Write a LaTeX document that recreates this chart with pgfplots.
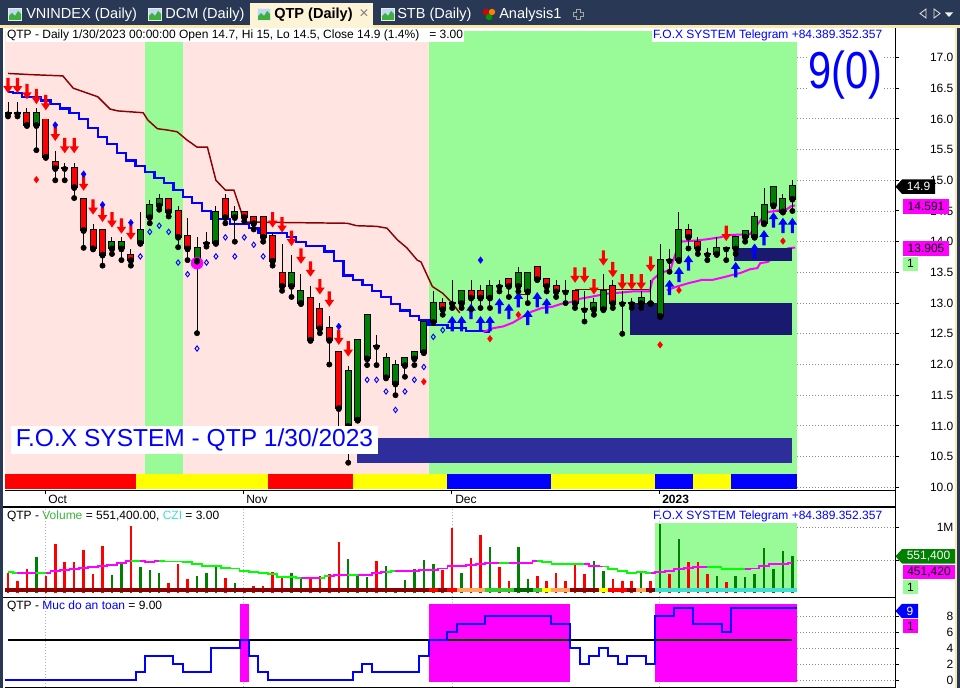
\documentclass[border=0pt]{standalone}
\usepackage{graphicx}
\usepackage{fontspec}
\setmainfont{Liberation Sans}
\usepackage{pgfplots}
\usepackage{pgfplotstable}
\pgfplotsset{compat=1.18}

\definecolor{tabbg}{HTML}{293955}
\definecolor{tabcream}{HTML}{FDF3D6}
\definecolor{tabstrip}{HTML}{FBE8AC}
\definecolor{pinkbg}{HTML}{FFE4E1}
\definecolor{greenbg}{HTML}{98FB98}
\definecolor{cgreen}{HTML}{008000}
\definecolor{cred}{HTML}{FF0000}
\definecolor{cmag}{HTML}{FF00FF}
\definecolor{cyel}{HTML}{FFFF00}
\definecolor{cblue}{HTML}{0000FF}
\definecolor{navyA}{HTML}{191970}
\definecolor{navyB}{HTML}{2D2D9B}
\definecolor{dred}{HTML}{8B0000}
\definecolor{lime}{HTML}{00FF00}
\definecolor{turq}{HTML}{40E0D0}
\definecolor{borange}{HTML}{FFA860}
\definecolor{bgreen}{HTML}{33CC33}
\definecolor{bdgreen}{HTML}{006400}
\definecolor{ttlgreen}{HTML}{3CB43C}
\definecolor{icblue}{HTML}{BFD9F2}
\definecolor{icgreen}{HTML}{3FAF3F}

\newcommand{\fs}[1]{\fontsize{#1}{#1}\selectfont}
\newcommand{\rect}[5]{\addplot[fill=#1, draw=none] coordinates {(#2,#3) (#4,#3) (#4,#5) (#2,#5)};}
\newcommand{\ptag}[5]{%
  \fill[#3] (895.5,#1) -- (902,#1-7.2) -- (#2,#1-7.2) -- (#2,#1+7.2) -- (902,#1+7.2) -- cycle;
  \node[text=#4, font=\fs{9}, inner sep=0pt] at ({(902+#2)/2},#1) {#5};}
\newcommand{\btag}[5]{%
  \fill[#3] (903,#1-7.2) rectangle (#2,#1+7.2);
  \node[text=#4, font=\fs{9}, inner sep=0pt] at ({(903+#2)/2},#1) {#5};}

\pgfdeclareplotmark{dnarrow}{%
  \pgfpathmoveto{\pgfqpoint{0pt}{0pt}}%
  \pgfpathlineto{\pgfqpoint{3.6pt}{5.2pt}}%
  \pgfpathlineto{\pgfqpoint{1.2pt}{5.2pt}}%
  \pgfpathlineto{\pgfqpoint{1.2pt}{11.5pt}}%
  \pgfpathlineto{\pgfqpoint{-1.2pt}{11.5pt}}%
  \pgfpathlineto{\pgfqpoint{-1.2pt}{5.2pt}}%
  \pgfpathlineto{\pgfqpoint{-3.6pt}{5.2pt}}%
  \pgfpathclose\pgfusepathqfill}
\pgfdeclareplotmark{uparrow}{%
  \pgfpathmoveto{\pgfqpoint{0pt}{0pt}}%
  \pgfpathlineto{\pgfqpoint{3.6pt}{-5.2pt}}%
  \pgfpathlineto{\pgfqpoint{1.2pt}{-5.2pt}}%
  \pgfpathlineto{\pgfqpoint{1.2pt}{-11.5pt}}%
  \pgfpathlineto{\pgfqpoint{-1.2pt}{-11.5pt}}%
  \pgfpathlineto{\pgfqpoint{-1.2pt}{-5.2pt}}%
  \pgfpathlineto{\pgfqpoint{-3.6pt}{-5.2pt}}%
  \pgfpathclose\pgfusepathqfill}

\pgfplotstableread{
i O H L C
0 16.09 16.28 16.04 16.09
1 16.09 16.28 16.04 16.09
2 16.09 16.17 15.90 15.90
3 15.90 16.17 15.49 16.09
4 15.99 15.99 15.38 15.38
5 15.29 15.47 15.00 15.20
6 15.20 15.28 15.00 15.20
7 15.20 15.28 14.71 14.89
8 14.69 14.69 13.90 14.19
9 14.19 14.29 13.89 13.89
10 14.19 14.19 13.61 13.79
11 13.89 14.08 13.80 13.99
12 13.89 14.08 13.70 13.99
13 13.79 13.88 13.61 13.70
14 13.98 14.48 13.98 14.19
15 14.40 14.68 14.30 14.59
16 14.59 14.77 14.52 14.69
17 14.69 14.69 14.41 14.49
18 14.50 14.58 13.91 14.08
19 14.09 14.38 13.70 13.89
20 13.69 14.07 12.51 13.89
21 13.98 14.16 13.92 13.98
22 13.98 14.58 13.98 14.49
23 14.69 14.77 14.30 14.40
24 14.40 14.58 14.00 14.49
25 14.49 14.49 14.33 14.40
26 14.40 14.40 14.20 14.30
27 14.40 14.40 14.00 14.08
28 14.09 14.14 13.61 13.69
29 13.49 13.97 13.20 13.28
30 13.28 13.78 13.10 13.49
31 13.00 13.47 13.00 13.19
32 13.09 13.28 12.40 12.40
33 12.90 13.00 12.51 12.59
34 12.59 12.79 12.00 12.40
35 12.20 12.20 10.95 11.29
36 11.00 11.98 10.40 11.90
37 11.10 12.40 11.10 12.40
38 12.10 12.81 11.99 12.81
39 12.30 12.48 11.99 12.30
40 11.79 12.19 11.79 12.10
41 11.69 12.08 11.50 11.99
42 11.99 12.10 11.80 12.10
43 12.10 12.20 11.99 12.20
44 12.20 12.69 12.20 12.69
45 12.69 13.19 12.69 13.00
46 13.00 13.08 12.81 12.90
47 13.00 13.38 12.92 13.00
48 13.00 13.19 12.92 13.19
49 13.19 13.38 12.90 13.09
50 13.19 13.29 12.92 13.09
51 13.09 13.38 12.92 13.28
52 13.28 13.38 13.19 13.28
53 13.39 13.39 13.10 13.28
54 13.28 13.58 13.19 13.49
55 13.19 13.49 13.00 13.49
56 13.59 13.59 13.39 13.39
57 13.39 13.39 13.19 13.28
58 13.28 13.38 13.10 13.19
59 13.19 13.38 13.00 13.19
60 13.19 13.19 12.92 13.00
61 12.90 13.19 12.70 12.90
62 12.90 13.08 12.81 13.00
63 12.90 13.47 12.90 13.19
64 13.28 13.38 12.92 13.00
65 13.00 13.19 12.50 13.00
66 13.00 13.09 12.92 13.00
67 13.00 13.19 12.92 13.09
68 13.00 13.38 13.00 13.00
69 12.79 13.97 12.79 13.70
70 13.70 13.88 13.51 13.70
71 13.70 14.48 13.70 14.19
72 14.19 14.29 13.89 14.08
73 13.99 14.08 13.80 13.89
74 13.80 13.89 13.70 13.80
75 13.80 14.07 13.80 13.89
76 13.89 13.89 13.70 13.89
77 13.89 14.08 13.80 14.08
78 14.08 14.18 14.00 14.18
79 14.08 14.48 14.08 14.40
80 14.30 14.87 14.30 14.60
81 14.59 14.89 14.59 14.89
82 14.49 14.78 14.49 14.69
83 14.70 15.00 14.50 14.90
}\candles

\pgfplotstableread{
i b
0 16.44
1 16.42
2 16.36
3 16.36
4 16.30
5 16.24
6 16.17
7 16.10
8 16.00
9 15.85
10 15.71
11 15.59
12 15.45
13 15.32
14 15.23
15 15.14
16 15.04
17 14.96
18 14.84
19 14.73
20 14.63
21 14.50
22 14.37
23 14.37
24 14.29
25 14.29
26 14.22
27 14.14
28 14.14
29 14.14
30 14.08
31 14.00
32 13.93
33 13.93
34 13.84
35 13.69
36 13.45
37 13.38
38 13.29
39 13.20
40 13.10
41 12.99
42 12.88
43 12.79
44 12.72
45 12.64
46 12.64
47 12.59
48 12.59
49 12.55
50 12.55
51 12.53
}\blueline

\pgfplotstableread{
i v c
0 0.31 0
1 0.18 0
2 0.37 0
3 0.55 1
4 0.26 0
5 0.745 0
6 0.475 0
7 0.475 0
8 0.65 0
9 0.29 0
10 0.715 0
11 0.27 1
12 0.44 1
13 1.02 0
14 0.39 1
15 0.35 1
16 0.30 1
17 0.155 0
18 0.44 0
19 0.205 0
20 0.26 1
21 0.30 1
22 0.425 1
23 0.22 0
24 0.145 1
25 0.05 0
26 0.10 0
27 0.10 0
28 0.32 0
29 0.26 0
30 0.30 1
31 0.22 1
32 0.22 0
33 0.26 0
34 0.29 0
35 0.77 0
36 0.515 1
37 0.27 1
38 0.235 1
39 0.485 0
40 0.41 1
41 0.07 1
42 0.195 1
43 0.365 1
44 0.50 1
45 0.44 1
46 0.35 0
47 0.995 0
48 0.31 1
49 0.525 0
50 0.88 0
51 0.705 1
52 0.39 0
53 0.185 0
54 0.705 1
55 0.205 1
56 0.255 0
57 0.185 0
58 0.31 0
59 0.185 0
60 0.44 0
61 0.29 0
62 0.49 1
63 0.34 1
64 0.205 0
65 0.185 0
66 0.185 0
67 0.30 1
68 0.185 0
69 1.05 1
70 0.29 0
71 0.82 1
72 0.475 0
73 0.475 0
74 0.29 0
75 0.255 1
76 0.17 0
77 0.255 1
78 0.235 1
79 0.29 1
80 0.68 1
81 0.365 1
82 0.64 1
83 0.56 1
}\vol

\pgfplotstableread{
i m
0 0.322
1 0.305
2 0.305
3 0.302
4 0.302
5 0.33
6 0.35
7 0.36
8 0.38
9 0.39
10 0.41
11 0.43
12 0.45
13 0.485
14 0.49
15 0.475
16 0.485
17 0.48
18 0.48
19 0.47
20 0.44
21 0.414
22 0.414
23 0.383
24 0.37
25 0.333
26 0.32
27 0.307
28 0.282
29 0.246
30 0.246
31 0.23
32 0.23
33 0.23
34 0.26
35 0.272
36 0.272
37 0.272
38 0.272
39 0.298
40 0.322
41 0.333
42 0.333
43 0.333
44 0.348
45 0.348
46 0.37
47 0.409
48 0.414
49 0.424
50 0.444
51 0.45
52 0.46
53 0.46
54 0.46
55 0.46
56 0.481
57 0.466
58 0.444
59 0.444
60 0.444
61 0.444
62 0.414
63 0.40
64 0.36
65 0.333
66 0.307
67 0.313
68 0.307
69 0.322
70 0.337
71 0.36
72 0.374
73 0.398
74 0.398
75 0.389
76 0.363
77 0.363
78 0.363
79 0.37
80 0.41
81 0.435
82 0.44
83 0.45
}\volma

\pgfplotstableread{
i m
0 0.322
1 0.305
nan nan
3 0.302
4 0.302
nan nan
13 0.485
14 0.49
nan nan
16 0.485
17 0.48
18 0.48
19 0.47
20 0.44
21 0.414
22 0.414
23 0.383
24 0.37
25 0.333
26 0.32
27 0.307
28 0.282
29 0.246
30 0.246
31 0.23
nan nan
33 0.23
34 0.26
nan nan
36 0.272
37 0.272
nan nan
40 0.322
41 0.333
nan nan
52 0.46
53 0.46
nan nan
56 0.481
57 0.466
58 0.444
59 0.444
60 0.444
61 0.444
nan nan
63 0.40
64 0.36
65 0.333
66 0.307
67 0.313
68 0.307
nan nan
74 0.398
75 0.389
76 0.363
77 0.363
78 0.363
}\volmagreen

\pgfplotsset{panel/.style={scale only axis, width=667.5pt, xmin=-0.32, xmax=93.86,
  anchor=north west, axis x line*=bottom, axis y line*=right,
  axis line style={-,black,line width=0.75pt},
  tick align=outside, major tick length=3pt, tick style={black,line width=0.75pt},
  tick label style={font=\fs{9}, black},
  yticklabel style={anchor=east, inner sep=0pt, xshift=41pt},
  /pgf/number format/assume math mode=true}}

\begin{document}
\begin{tikzpicture}[x=0.75pt,y=-0.75pt]
\path[use as bounding box] (0,0) rectangle (960,688);
\fill[white] (0,0) rectangle (960,688);

% ================= MAIN PRICE PANEL =================
\begin{axis}[panel, at={(3.75pt,-21pt)}, height=346.5pt, ymin=9.956, ymax=17.48,
  xtick={3.92,24.87,46.98,68.89}, xticklabels={Oct,Nov,Dec,\textbf{2023}},
  xticklabel style={anchor=north west, inner sep=0pt, xshift=2.25pt, yshift=-0.5pt},
  ytick={10,10.5,...,17},
  yticklabel style={/pgf/number format/fixed, /pgf/number format/fixed zerofill, /pgf/number format/precision=1}]
% background zones
\rect{pinkbg}{-0.32}{10.22}{14.5}{17.43}
\rect{greenbg}{14.5}{10.22}{18.5}{17.43}
\rect{pinkbg}{18.5}{10.22}{44.5}{17.43}
\rect{greenbg}{44.5}{10.22}{83.5}{17.43}
% dotted grid on the right
\pgfplotsinvokeforeach{10,10.5,...,17}{\draw[dash pattern=on 0.75pt off 1.5pt, black!45, line width=0.6pt] (axis cs:83.5,#1) -- (axis cs:93.86,#1);}
% colour band
\rect{cred}{-0.32}{9.97}{13.5}{10.22}
\rect{cyel}{13.5}{9.97}{27.5}{10.22}
\rect{cred}{27.5}{9.97}{36.5}{10.22}
\rect{cyel}{36.5}{9.97}{46.5}{10.22}
\rect{cblue}{46.5}{9.97}{57.5}{10.22}
\rect{cyel}{57.5}{9.97}{68.5}{10.22}
\rect{cblue}{68.5}{9.97}{72.5}{10.22}
\rect{cyel}{72.5}{9.97}{76.5}{10.22}
\rect{cblue}{76.5}{9.97}{83.5}{10.22}
% dark red line
\addplot[dred, line width=1.1pt] coordinates {(0,16.74) (2.5,16.72) (5.8,16.70) (6.9,16.50) (9.5,16.36) (10.8,16.16) (11.6,16.13) (14.3,16.10) (14.8,15.98) (15.8,15.84) (16.8,15.82) (17.9,15.79) (18.9,15.66) (20.0,15.54) (21.1,15.54) (22.0,15.00) (23.0,14.84) (23.9,14.84) (24.6,14.52) (25.0,14.32) (35.9,14.30) (36.9,14.26) (39.0,14.25) (40.1,14.22) (41.2,14.03) (42.2,13.90) (43.3,13.70) (43.7,13.67) (44.9,13.27) (46.0,13.16) (47.0,13.00) (47.8,12.84)};
\addplot[dred, line width=1.1pt] coordinates {(54.2,13.14) (54.9,13.14)};
\addplot[dred, line width=1.1pt] coordinates {(60.0,13.22) (67.9,13.22)};
\addplot[dred, line width=1.1pt] coordinates {(77.5,14.12) (78.5,14.12)};
\addplot[dred, line width=1.1pt] coordinates {(81.0,14.50) (82.4,14.50)};
% blue stepped line
\addplot[cblue, line width=1.7pt, const plot mark mid] table[x=i, y=b] {\blueline};
% magenta lines
\addplot[cmag, line width=1.5pt] coordinates {(50.3,12.53) (51.3,12.59) (52.4,12.62) (53.4,12.68) (54.5,12.78) (55.4,12.86) (56.5,12.92) (57.6,12.94) (58.6,12.99) (59.7,13.02) (60.5,13.07) (61.6,13.10) (62.6,13.13) (63.7,13.16) (64.8,13.17) (66.1,13.19) (67.9,13.19) (68.2,13.38) (69.0,13.49) (70.1,13.54) (70.4,13.70) (71.1,14.00) (72.9,14.02) (74.0,14.04) (75.3,14.07) (76.4,14.11) (78.5,14.12) (79.4,14.30) (80.3,14.48) (82.4,14.53) (82.9,14.58) (83.3,14.59)};
\addplot[cmag, line width=1.5pt] coordinates {(69.7,13.21) (70.8,13.27) (71.9,13.32) (73.5,13.38) (74.6,13.38) (75.7,13.42) (76.7,13.46) (77.5,13.49) (78.5,13.55) (79.3,13.57) (79.6,13.65) (80.4,13.67) (80.9,13.73) (82.5,13.89) (83.3,13.905)};
% signals
\addplot[only marks, mark=dnarrow, color=cred] coordinates {(0,16.42) (1,16.42) (2,16.32) (3,16.24) (4,16.14) (5,15.64) (6,15.44) (7,15.44) (8,14.83) (9,14.44) (10,14.32) (11,14.23) (12,14.13) (13,14.03) (28,14.23) (29,14.15) (30,13.93) (31,13.64) (32,13.43) (33,13.14) (34,12.94) (35,12.32) (36,12.13) (60,13.33) (61,13.33) (62,13.14) (63,13.61) (64,13.42) (65,13.22) (66,13.22) (67,13.22) (68,13.51) (76,14.01)};
\addplot[only marks, mark=uparrow, color=cblue] coordinates {(47,12.79) (48,12.79) (49,12.99) (50,12.79) (51,12.79) (52,13.08) (53,12.99) (54,13.18) (55,12.89) (56,13.18) (57,13.08) (70,13.38) (71,13.59) (72,13.78) (77,13.67) (79,13.97) (80,14.19) (81,14.48) (82,14.39) (83,14.39)};
\addplot[only marks, mark=diamond, mark size=2pt, cblue, mark options={line width=0.7pt}] coordinates {(14,13.76) (15,14.16) (16,14.26) (17,14.16) (18,13.66) (19,13.47) (20,12.26) (21,13.66) (22,13.76) (23,14.07) (24,13.76) (25,14.07) (26,13.95) (27,13.76) (38,11.75) (39,11.75) (40,11.56) (41,11.26) (42,11.56) (43,11.75) (44,11.96) (45,12.45) (46,12.56)};
\addplot[only marks, mark=diamond*, mark size=2.4pt, cblue] coordinates {(5,15.90) (8,15.10) (10,14.60) (13,14.31) (35,12.62) (50,13.70)};
\addplot[only marks, mark=diamond*, mark size=2.4pt, cred] coordinates {(3,15.01) (44,11.72) (51,12.42) (54,12.81) (69,12.32) (71,13.21) (82,14.01)};
\addplot[only marks, mark=*, mark size=4.5pt, cmag] coordinates {(20,13.65)};
% zone boxes
\rect{navyB}{36.9}{10.39}{83.0}{10.81}
\rect{navyA}{65.8}{12.48}{83.0}{13.00}
\rect{navyA}{76.8}{13.69}{83.0}{13.89}
% candles: wicks
\addplot[only marks, mark=none, error bars/.cd, y dir=plus, y explicit, error mark=none,
  error bar style={draw=black, line width=0.75pt}]
  table[x=i, y=L, y error plus expr={\thisrow{H}-\thisrow{L}}] {\candles};
% candles: black outline of bodies
\addplot[only marks, mark=none, error bars/.cd, y dir=plus, y explicit, error mark=none,
  error bar style={draw=black, line width=5.25pt}]
  table[x=i, y expr={min(\thisrow{O},\thisrow{C})-0.016}, y error plus expr={abs(\thisrow{C}-\thisrow{O})+0.032}] {\candles};
% down bodies
\addplot[only marks, mark=none, restrict expr to domain={\thisrow{O}-\thisrow{C}}{0.001:100},
  error bars/.cd, y dir=plus, y explicit, error mark=none,
  error bar style={draw=cred, line width=3.75pt}]
  table[x=i, y=C, y error plus expr={\thisrow{O}-\thisrow{C}}] {\candles};
% up bodies
\addplot[only marks, mark=none, restrict expr to domain={\thisrow{C}-\thisrow{O}}{0.001:100},
  error bars/.cd, y dir=plus, y explicit, error mark=none,
  error bar style={draw=cgreen, line width=3.75pt}]
  table[x=i, y=O, y error plus expr={\thisrow{C}-\thisrow{O}}] {\candles};
\end{axis}

% ================= VOLUME PANEL =================
\begin{axis}[panel, at={(3.75pt,-380.25pt)}, height=67.5pt, ymin=-0.064, ymax=1.31,
  ytick={0.5,1}, yticklabels={{},1M},
  xtick={3.92,24.87,46.98,68.89}, xticklabels={}, xtick style={draw=none},
  xmajorgrids, major grid style={dash pattern=on 0.75pt off 1.5pt, black!30}]
\rect{greenbg}{68.5}{0.012}{83.5}{1.066}
\pgfplotsinvokeforeach{0.5,1}{\draw[dash pattern=on 0.75pt off 1.5pt, black!45, line width=0.6pt] (axis cs:83.5,#1) -- (axis cs:93.86,#1);}
\addplot[ycomb, draw=cred, line width=1.9pt, restrict expr to domain={\thisrow{c}}{-0.5:0.5}] table[x=i, y=v] {\vol};
\addplot[ycomb, draw=cgreen, line width=1.9pt, restrict expr to domain={\thisrow{c}}{0.5:1.5}] table[x=i, y=v] {\vol};
% bottom colour strip
\rect{dred}{-0.32}{0.017}{44.5}{0.078}
\rect{cred}{44.5}{0.017}{45.5}{0.078}
\rect{dred}{45.5}{0.017}{46.5}{0.078}
\rect{cred}{46.5}{0.017}{47.5}{0.078}
\rect{borange}{47.5}{0.017}{50.5}{0.078}
\rect{bgreen}{50.5}{0.017}{53.5}{0.078}
\rect{bdgreen}{53.5}{0.017}{55.5}{0.078}
\rect{bgreen}{55.5}{0.017}{56.5}{0.078}
\rect{cyel}{56.5}{0.017}{57.5}{0.078}
\rect{borange}{57.5}{0.017}{59.5}{0.078}
\rect{dred}{59.5}{0.017}{62.5}{0.078}
\rect{cyel}{62.5}{0.017}{63.5}{0.078}
\rect{cred}{63.5}{0.017}{65.5}{0.078}
\rect{dred}{65.5}{0.017}{66.5}{0.078}
\rect{borange}{66.5}{0.017}{67.5}{0.078}
\rect{dred}{67.5}{0.017}{68.5}{0.078}
\rect{turq}{68.5}{0.017}{83.5}{0.078}
% volume average
\addplot[cmag, line width=1.3pt, const plot mark mid] table[x=i, y=m] {\volma};
\addplot[lime, line width=1.3pt, const plot mark mid, unbounded coords=jump] table[x=i, y=m] {\volmagreen};
\end{axis}

% ================= SAFETY INDICATOR PANEL =================
\begin{axis}[panel, at={(3.75pt,-448.5pt)}, height=66.75pt, ymin=-0.84, ymax=10.29,
  ytick={0,2,4,6,8},
  xtick={3.92,24.87,46.98,68.89}, xticklabels={}, xtick style={draw=none},
  xmajorgrids, major grid style={dash pattern=on 0.75pt off 1.5pt, black!30}]
\rect{cmag}{24.5}{-0.17}{25.5}{9.54}
\rect{cmag}{44.5}{-0.17}{59.5}{9.54}
\rect{cmag}{68.5}{-0.17}{83.5}{9.54}
\pgfplotsinvokeforeach{0,2,4,6,8}{\draw[dash pattern=on 0.75pt off 1.5pt, black!45, line width=0.6pt] (axis cs:83.5,#1) -- (axis cs:93.86,#1);}
\addplot[black, line width=1.5pt] coordinates {(0,5) (83.0,5)};
\addplot[cblue, line width=1.5pt, const plot] coordinates {(-0.32,0) (13.5,1) (14.5,3) (17.5,2) (18.5,1) (21.5,4) (24.5,5) (25.5,3) (26.5,1) (27.5,0) (36.5,1) (37.5,2) (38.5,1) (43.5,3) (44.5,5) (46.5,6) (47.5,7) (50.5,8) (57.5,7) (59.5,4) (60.5,2) (61.5,3) (62.5,4) (63.5,3) (64.5,2) (65.5,3) (67.5,2) (68.5,8) (70.5,9) (72.5,7) (75.5,6) (76.5,9) (83.5,9)};
\end{axis}

% ================= frame lines =================
\draw[black, line width=0.75pt] (895,28) -- (895,688);
\draw[black, line width=1.3pt] (3,507) -- (895,507);
\draw[black, line width=1pt] (3,597.5) -- (895,597.5);
\fill[tabbg] (0,28) rectangle (3,688);
\fill[tabstrip] (954.5,28) rectangle (957,688);
\fill[tabbg] (957,0) rectangle (960,688);

% ================= texts in panels =================
\node[anchor=west, font=\fs{9}, inner sep=0.6pt, fill=white] at (6,35.5) {QTP - Daily 1/30/2023 00:00:00 Open 14.7, Hi 15, Lo 14.5, Close 14.9 (1.4\%)\ \ \ = 3.00};
\node[anchor=west, font=\fs{9}, inner sep=0.6pt, fill=white, text=cblue] at (652,35.5) {F.O.X SYSTEM Telegram +84.389.352.357};
\node[text=cblue, fill=white, inner sep=1pt, font=\fs{31.2}] at (845,75) {\scalebox{1}[1.25]{9(0)}};
\node[fill=white, text=cblue, inner sep=0pt, minimum width=275.25pt, minimum height=21pt, font=\fs{18.4}] at (194.5,440) {F.O.X SYSTEM - QTP 1/30/2023};
\node[anchor=west, font=\fs{9}, inner sep=0.6pt] at (6,516.5) {QTP - \textcolor{ttlgreen}{Volume} = 551,400.00, \textcolor{turq}{CZI} = 3.00};
\node[anchor=west, font=\fs{9}, inner sep=0.6pt, text=cblue] at (652,516.5) {F.O.X SYSTEM Telegram +84.389.352.357};
\node[anchor=west, font=\fs{9}, inner sep=0.6pt] at (6,606.5) {QTP - \textcolor{cblue}{Muc do an toan} = 9.00};

% ================= value tags =================
\ptag{186.7}{935}{black}{white}{14.9}
\btag{206.5}{949}{cmag}{black}{14.591}
\btag{248.5}{949}{cmag}{black}{13.905}
\btag{263.7}{918}{greenbg}{black}{1}
\ptag{556.3}{955}{cgreen}{white}{551,400}
\btag{571.8}{955}{cmag}{black}{451,420}
\btag{587}{918}{greenbg}{black}{1}
\ptag{611}{918}{cblue}{white}{9}
\btag{626}{918}{cmag}{black}{1}

% ================= tab bar =================
\fill[tabbg] (0,0) rectangle (960,26);
\fill[tabstrip] (0,25.5) rectangle (960,28.5);
\fill[tabcream] (250,3) rectangle (373,28);
% icons
\foreach \ix in {8,148,257,381}{
  \fill[white!85!gray] (\ix,8) rectangle (\ix+14,21);
  \fill[icblue] (\ix+1,9) rectangle (\ix+13,20);
  \fill[icgreen] (\ix+1,20) -- (\ix+1,16) -- (\ix+4,13) -- (\ix+7,16) -- (\ix+10,11) -- (\ix+13,14) -- (\ix+13,20) -- cycle;
}
\fill[red!85!black] (486,12) circle (3.2);
\fill[green!60!black] (489,17) circle (3.2);
\fill[orange] (492,12) circle (3.2);
\node[anchor=west, text=white, font=\fs{10.9}, inner sep=0pt] at (26,15) {VNINDEX (Daily)};
\node[anchor=west, text=white, font=\fs{10.9}, inner sep=0pt] at (165,15) {DCM (Daily)};
\node[anchor=west, text=black, font=\fs{10.9}\bfseries, inner sep=0pt] at (274,15) {QTP (Daily)};
\node[text=gray, font=\fs{12}, inner sep=0pt] at (364,14) {×};
\node[anchor=west, text=white, font=\fs{10.9}, inner sep=0pt] at (397,15) {STB (Daily)};
\node[anchor=west, text=white, font=\fs{10.9}, inner sep=0pt] at (499,15) {Analysis1};
\draw[gray!70, line width=0.6pt] (576,9) -- (580,9) -- (580,12) -- (583,12) -- (583,16) -- (580,16) -- (580,19) -- (576,19) -- (576,16) -- (573,16) -- (573,12) -- (576,12) -- cycle;
\draw[white!80!gray, line width=0.6pt] (926,9) -- (926,18) -- (920,13.5) -- cycle;
\draw[white!80!gray, line width=0.6pt] (934,9) -- (934,18) -- (940,13.5) -- cycle;
\fill[white!90!gray] (945,12.5) -- (953,12.5) -- (949,17) -- cycle;
\end{tikzpicture}
\end{document}
